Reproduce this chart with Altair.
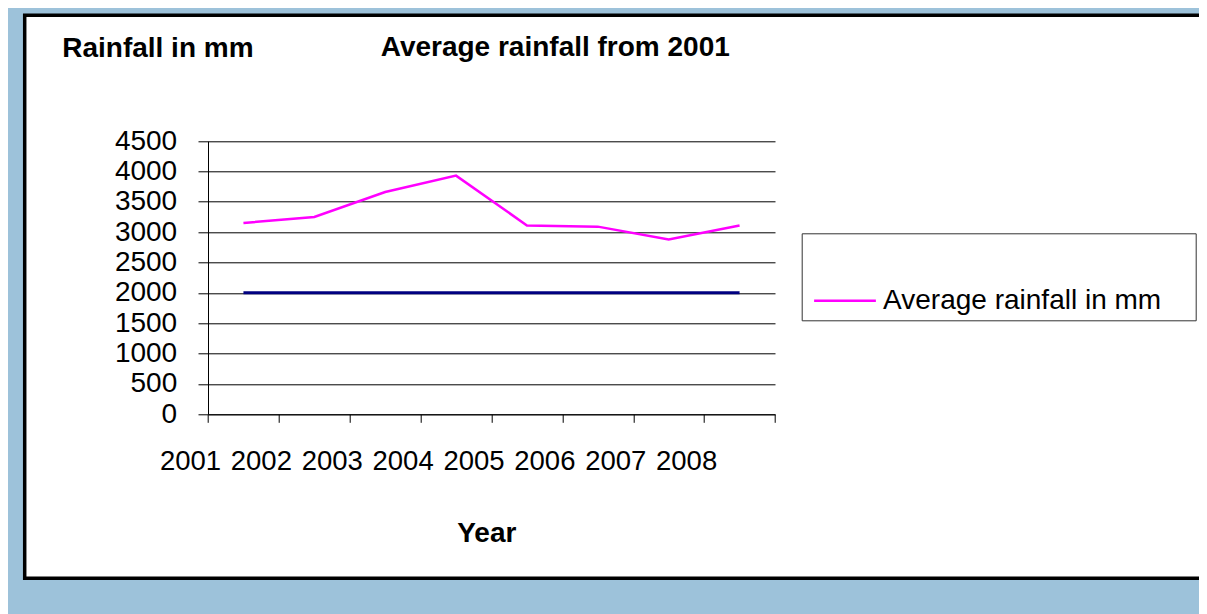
import json
import altair as alt
import pandas as pd

# ---- data ----
years = ["2001", "2002", "2003", "2004", "2005", "2006", "2007", "2008"]
rainfall = [3150, 3250, 3660, 3930, 3110, 3090, 2880, 3110]
reference_level = [2000, 2000, 2000, 2000, 2000, 2000, 2000, 2000]
y_ticks = [0, 500, 1000, 1500, 2000, 2500, 3000, 3500, 4000, 4500]
series_name = "Average rainfall in mm"
chart_title = "Average rainfall from 2001"
y_title = "Rainfall in mm"
x_title = "Year"

df = pd.DataFrame({
    "year": years,
    "pos": [i + 0.5 for i in range(len(years))],
    "rainfall": rainfall,
    "reference": reference_level,
    "series": [series_name] * len(years),
})

FONT = "Liberation Sans"
n = len(years)

x_scale = alt.Scale(domain=[0, n], range=[183.3, 750.3], nice=False, zero=False)
y_scale = alt.Scale(domain=[0, 4500], range=[399, 125.7], nice=False)

label_expr = f"datum.value < {n} ? {json.dumps(years)}[datum.value] : ''"

x_axis = alt.Axis(
    values=list(range(n + 1)), labelExpr=label_expr, title=x_title,
    offset=-164, tickSize=8, tickColor="black", domainColor="black",
    labelPadding=47.3, labelBaseline="alphabetic", labelOffset=-18,
    labelAlign="center", labelAngle=0, labelFlush=False, labelOverlap=False,
    labelFont=FONT, labelFontSize=27.5, labelColor="black", labelLimit=400,
    titleFont=FONT, titleFontSize=28, titleFontWeight="bold", titleColor="black",
    titleX=461.6, titleY=126.7, titleAlign="center", titleBaseline="alphabetic",
    grid=False,
)
y_axis = alt.Axis(
    values=y_ticks, format="d", title=y_title,
    offset=-183.3, tickSize=10, tickColor="black", domainColor="black",
    labelPadding=21.3, labelFont=FONT, labelFontSize=28, labelColor="black",
    labelFlush=False, labelOverlap=False,
    titleFont=FONT, titleFontSize=28, titleFontWeight="bold", titleColor="black",
    titleAngle=0, titleX=-146.3, titleY=41, titleAlign="left",
    titleBaseline="alphabetic",
    grid=True, gridColor="black", gridOpacity=1, gridWidth=1,
)

base = alt.Chart(df)

ref_line = base.mark_line(color="#000080", strokeWidth=3).encode(
    x=alt.X("pos:Q", scale=x_scale, axis=x_axis),
    y=alt.Y("reference:Q", scale=y_scale, axis=y_axis),
)

rain_line = base.mark_line(strokeWidth=2.5).encode(
    x=alt.X("pos:Q", scale=x_scale, axis=x_axis),
    y=alt.Y("rainfall:Q", scale=y_scale, axis=y_axis),
    color=alt.Color(
        "series:N",
        scale=alt.Scale(domain=[series_name], range=["#FF00FF"]),
        legend=alt.Legend(
            orient="none", legendX=777, legendY=218,
            # invisible title only reserves the empty upper part of the box
            title=series_name, titleOpacity=0, titleFontSize=38.6,
            titleFontWeight="normal",
            titlePadding=9.8, titleLimit=800, titleFont=FONT,
            padding=5, symbolOffset=24.3, symbolType="M-6,0H6", symbolSize=106,
            symbolStrokeWidth=2.5, labelFont=FONT, labelFontSize=28,
            labelColor="black", labelOffset=24.1, labelLimit=600,
            strokeColor="#333333", fillColor="white",
        ),
    ),
)

chart = alt.layer(ref_line, rain_line).properties(
    width=1177.3,
    height=563,
    autosize=alt.AutoSizeParams(type="none"),
    padding={"left": 16.7, "top": 7.3, "right": -3, "bottom": 35.7},
    background="#9DC2DA",
    title=alt.TitleParams(
        chart_title, anchor="start", frame="group", orient="top",
        dx=356, dy=68.7, baseline="alphabetic", offset=0,
        font=FONT, fontSize=28, fontWeight="bold", color="black",
    ),
).configure_view(
    stroke="black", strokeWidth=3.5, fill="white",
)

chart.save("out.html", embed_options={"renderer": "svg", "actions": False})
